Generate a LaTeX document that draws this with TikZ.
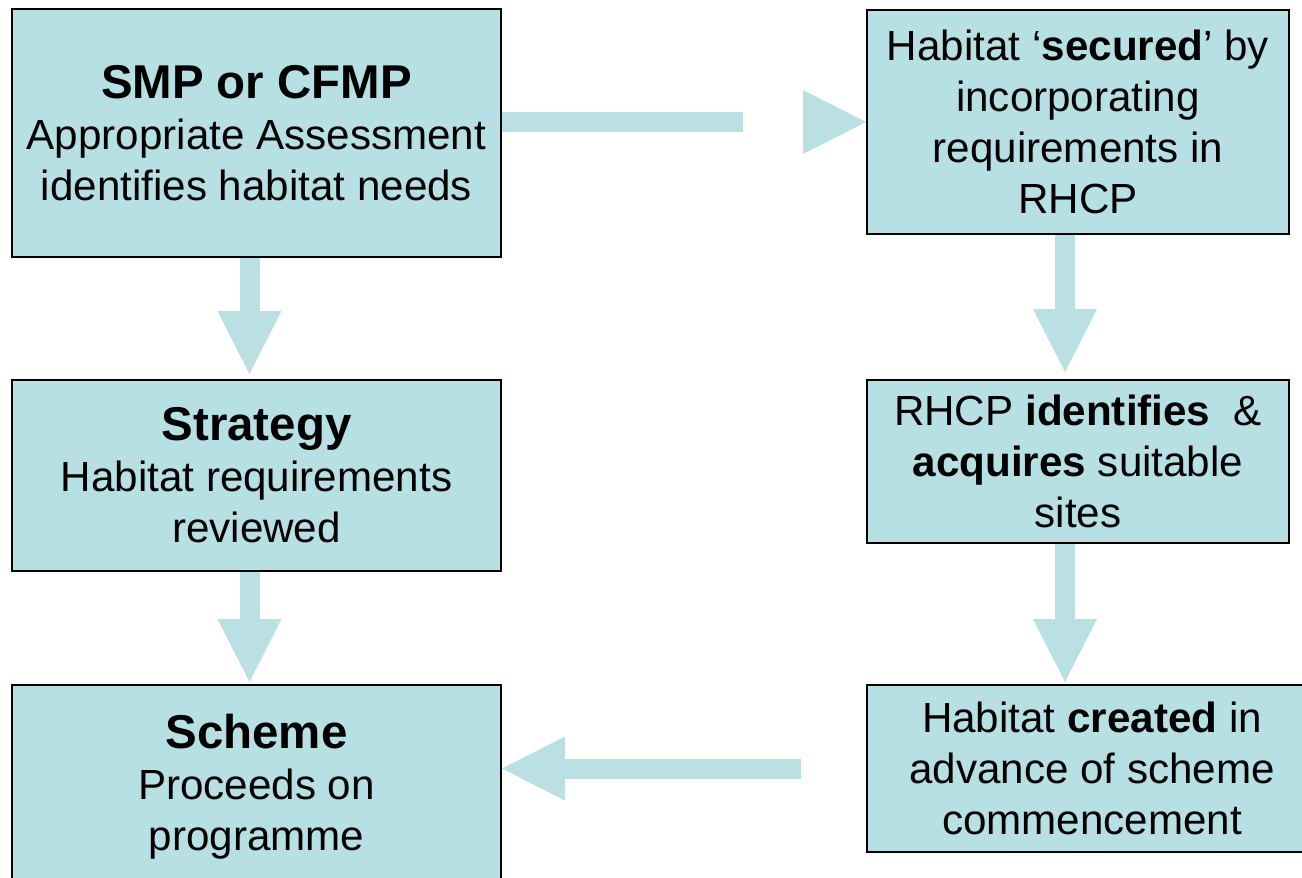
\documentclass[tikz,border=0pt]{standalone}
\usepackage{fontspec}
\setmainfont{Liberation Sans}
\usepackage{tikz}
\usetikzlibrary{arrows.meta}
\usetikzlibrary{calc}

\definecolor{boxblue}{RGB}{182,224,228}
\definecolor{arrowblue}{RGB}{187,224,227}

\tikzset{
  stagebox/.style={draw=black, line width=0.04cm, fill=boxblue, align=center,
    inner sep=2pt, font=\fontsize{24}{29}\selectfont},
  flowarrow/.style={draw=arrowblue, line width=0.4cm,
    -{Triangle[width=1.28cm, length=1.26cm, line width=0pt]}},
}
\newcommand{\boxhead}[1]{{\fontsize{27}{31}\selectfont\bfseries #1}}

\begin{document}
\begin{tikzpicture}[x=0.02cm, y=-0.02cm]
	\clip (0,0) rectangle (1302,878);
	\node[stagebox, minimum width=9.78cm, minimum height=4.96cm] (smp) at (256.5,133)
		{\boxhead{SMP or CFMP}\\Appropriate Assessment\\identifies habitat needs};
	\node[stagebox, minimum width=8.44cm, minimum height=4.48cm] (secured) at (1078,122)
		{Habitat ‘\textbf{secured}’ by\\incorporating\\requirements in\\RHCP};
	\node[stagebox, minimum width=9.78cm, minimum height=3.82cm] (strategy) at (256.5,475.5)
		{\boxhead{Strategy}\\Habitat requirements\\reviewed};
	\node[stagebox, minimum width=8.44cm, minimum height=3.26cm] (acquire) at (1078,461.5)
		{RHCP \textbf{identifies}\ \ \&\\\textbf{acquires} suitable\\sites};
	\node[stagebox, minimum width=9.78cm, minimum height=4.08cm] (scheme) at (256.5,787)
		{\boxhead{Scheme}\\Proceeds on\\programme};
	\node[stagebox, minimum width=9.0cm, minimum height=3.34cm] (created) at (1092,768.5)
		{Habitat \textbf{created} in\\advance of scheme\\commencement};

	% connectors
	\draw[flowarrow, dash pattern=on 4.82cm off 5cm] (smp.east |- secured.west) -- (secured.west);
	\draw[flowarrow] ($(smp.south)+(-7,0)$) -- ($(strategy.north)+(-7,-5)$);
	\draw[flowarrow] ($(strategy.south)+(-7,0)$) -- ($(scheme.north)+(-7,-2)$);
	\draw[flowarrow] ($(secured.south)+(-13,0)$) -- ($(acquire.north)+(-13,-7)$);
	\draw[flowarrow] ($(acquire.south)+(-13,0)$) -- ($(acquire.south |- created.north)+(-13,-2)$);
	\draw[flowarrow] ($(created.west)+(-65,0)$) -- (scheme.east |- created.west);
\end{tikzpicture}
\end{document}
